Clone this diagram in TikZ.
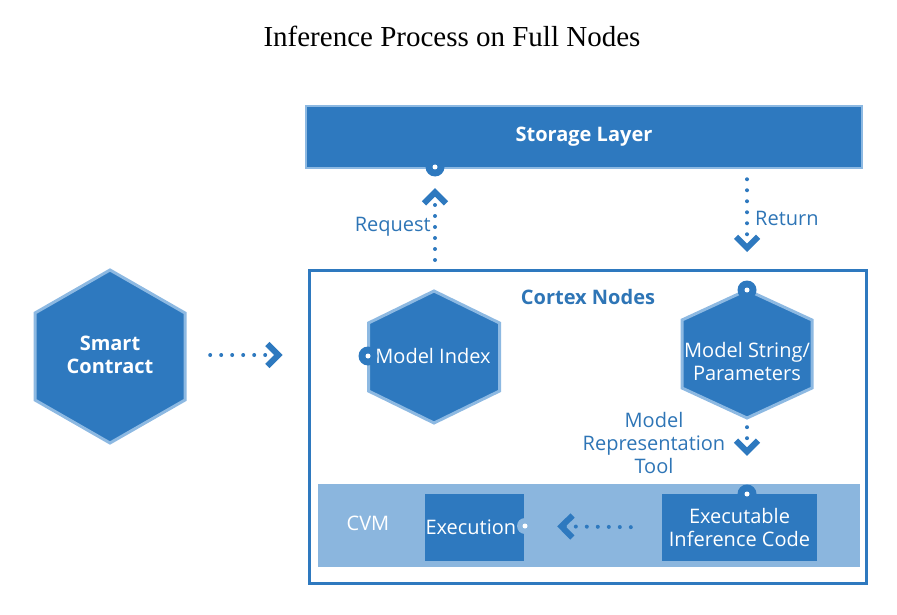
\documentclass[tikz,border=0pt]{standalone}
\usepackage{fontspec}
\setmainfont{Open Sans}
\newfontfamily\titlefont{Liberation Serif}
\usetikzlibrary{arrows.meta}
\definecolor{cxdark}{RGB}{46,121,191}
\definecolor{cxedge}{RGB}{141,185,226}
\definecolor{cxband}{RGB}{139,182,222}
\definecolor{cxtext}{RGB}{46,117,182}

\begin{document}
\begin{tikzpicture}[x=1pt,y=-1pt]

\tikzstyle{hexa}=[fill=cxdark,draw=cxedge,line width=3pt,line join=miter]
\tikzstyle{hextext}=[text=white,align=center,font=\fontsize{20}{23}\selectfont,inner sep=0pt]
\tikzstyle{block}=[rectangle,fill=cxdark,text=white,align=center,font=\fontsize{20}{23}\selectfont,inner sep=0pt]
\tikzstyle{note}=[text=cxtext,align=center,font=\fontsize{20}{23}\selectfont,inner sep=0pt]
\tikzstyle{port}=[circle,fill=cxdark,minimum size=19pt,inner sep=0pt]
\tikzstyle{whitedot}=[circle,fill=white,minimum size=5pt,inner sep=0pt]
\tikzstyle{flow}=[draw=cxdark,line width=4pt,line cap=round,dash pattern=on 0pt off 11pt,-{Straight Barb[length=11pt,width=22pt,line width=6pt,sep=5pt]}]

\useasboundingbox (0,0) rectangle (897,615);

%title and the storage layer.
\node[font=\titlefont\fontsize{29}{34}\selectfont] (title) at (452,36) {Inference Process on Full Nodes};
\node[block,draw=cxedge,line width=2.5pt,minimum width=556pt,minimum height=62pt,font=\bfseries\fontsize{20}{23}\selectfont] (storage) at (584,137) {Storage Layer};

%cortex box and cvm band.
\node[rectangle,draw=cxdark,line width=3pt,minimum width=557pt,minimum height=313pt] (cortex) at (587.5,426.5) {};
\node[rectangle,fill=cxband,minimum width=542pt,minimum height=83pt] (cvm) at (589,525.5) {};
\node[note,font=\bfseries\fontsize{20}{23}\selectfont] (cortexlbl) at (588,297) {Cortex Nodes};
\node[hextext] (cvmlbl) at (368,523) {CVM};

%hexagons.
\draw[hexa,shift={(110,356.5)}] (0,-86.5) -- (75,-43.5) -- (75,43.5) -- (0,86.5) -- (-75,43.5) -- (-75,-43.5) -- cycle;
\draw[hexa,shift={(434,357)}] (0,-66) -- (65.5,-34) -- (65.5,34) -- (0,66) -- (-65.5,34) -- (-65.5,-34) -- cycle;
\draw[hexa,shift={(747,354)}] (0,-64) -- (65,-34) -- (65,34) -- (0,64) -- (-65,34) -- (-65,-34) -- cycle;
\node[hextext,font=\bfseries\fontsize{20}{23}\selectfont,minimum width=150pt] (smart) at (110,355) {Smart\\Contract};
\node[hextext] (mindex) at (433,356) {Model Index};
\node[hextext,minimum width=130pt,minimum height=128pt] (mstring) at (747,361) {Model String/\\Parameters};

%boxes in the cvm.
\node[block,minimum width=155pt,minimum height=67pt] (exable) at (739.5,527.5) {Executable\\Inference Code};
\node[block,minimum width=99pt,minimum height=67pt,text width=98pt,align=left] (exec) at (474.5,527.5) {Execution};

%ports.
\node[port] (sport) at (435,167) {};
\node[whitedot] (sdot) at (sport) {};
\node[port] (iport) at (368,356) {};
\node[whitedot] (idot) at (iport) {};
\node[port] (pport) at (747,290) {};
\node[whitedot] (pdot) at (pport) {};
\node[port] (cport) at (747,494) {};
\node[whitedot] (cdot) at (cport) {};
\node[port,fill=cxband,minimum size=16pt] (xport) at (525,526) {};
\node[whitedot] (xdot) at (xport) {};

%labels.
\node[note,anchor=east] (req) at (431,227) {Request};
\node[note,anchor=west] (ret) at (755,218) {Return};
\node[note] (mrt) at (654,443) {Model\\Representation\\Tool};

\draw[flow,shorten <=25pt,shorten >=20pt] (smart.east) -- (smart.east -| cortex.west);
\draw[flow,shorten <=8.5pt,shorten >=6.5pt] (cortex.north -| sport) -- (sport);
\draw[flow,shorten <=10pt,shorten >=11.5pt] (storage.south -| pport) -- (cortex.north -| pport);
\draw[flow,shorten <=2pt,shorten >=23.5pt] (mstring.south) -- (cport);
\draw[flow,shorten <=31pt,shorten >=19pt] (exable.west) -- (xport);

\end{tikzpicture}
\end{document}
